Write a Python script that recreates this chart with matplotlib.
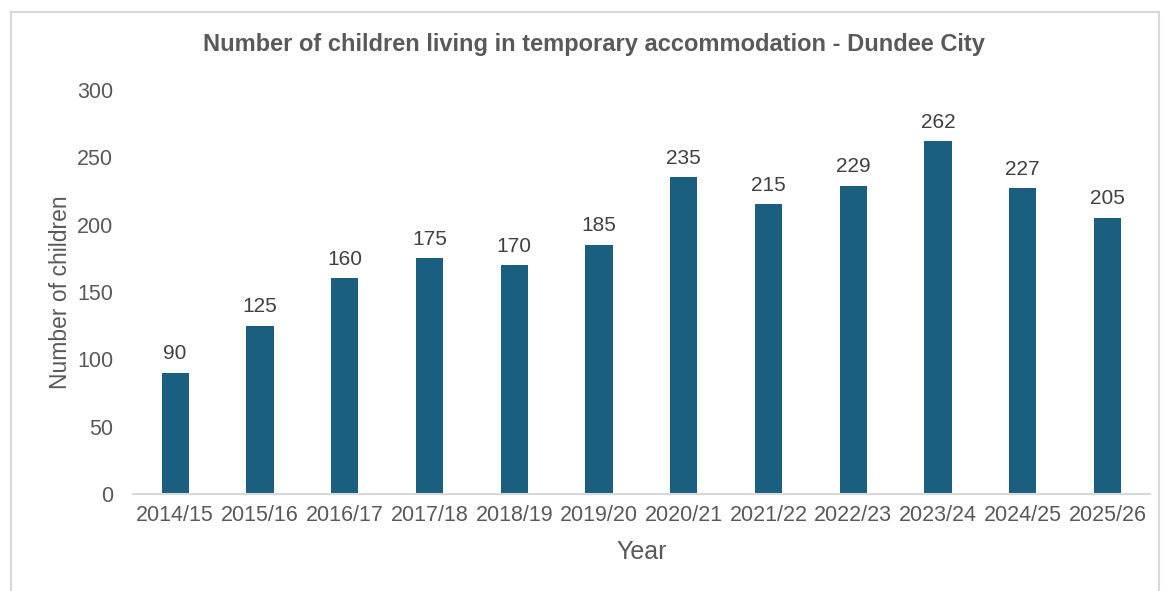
import matplotlib.pyplot as plt
from matplotlib.patches import Rectangle

years = ['2014/15', '2015/16', '2016/17', '2017/18', '2018/19', '2019/20',
         '2020/21', '2021/22', '2022/23', '2023/24', '2024/25', '2025/26']
children = [90, 125, 160, 175, 170, 185, 235, 215, 229, 262, 227, 205]

plt.rcParams['font.family'] = ['Liberation Sans', 'DejaVu Sans']

fig = plt.figure(figsize=(11.65, 5.91), dpi=100)
ax = fig.add_axes([0.114, 0.164, 0.873, 0.684])

# outer chart border
fig.patches.append(Rectangle((11 / 1165, -0.05), 1148 / 1165, 1 - 12 / 591 + 0.05,
                             transform=fig.transFigure, fill=False,
                             edgecolor='#d9d9d9', linewidth=1.5))

x = range(len(years))
bars = ax.bar(x, children, width=0.32, color='#1a5e80')
for b, v in zip(bars, children):
    ax.text(b.get_x() + b.get_width() / 2, v + 7, str(v), ha='center', va='bottom',
            fontsize=15, color='#404040')

ax.set_xlim(-0.5, len(years) - 0.5)
ax.set_ylim(0, 300)
ax.set_yticks(range(0, 301, 50))
ax.set_xticks(list(x))
ax.set_xticklabels(years)
ax.tick_params(axis='both', length=0, labelsize=15.5, labelcolor='#595959')
ax.tick_params(axis='y', pad=14)
ax.tick_params(axis='x', pad=8)

for s in ['top', 'right', 'left']:
    ax.spines[s].set_visible(False)
ax.spines['bottom'].set_color('#d9d9d9')
ax.spines['bottom'].set_linewidth(1.5)

ax.set_xlabel('Year', fontsize=18, color='#595959', labelpad=10)
ax.set_ylabel('Number of children', fontsize=16.5, color='#595959', labelpad=4)
fig.text(0.51, 1 - 45 / 591, 'Number of children living in temporary accommodation - Dundee City',
         ha='center', va='center', fontsize=17, fontweight='bold', color='#595959')

fig.savefig('out.png', dpi=100)
